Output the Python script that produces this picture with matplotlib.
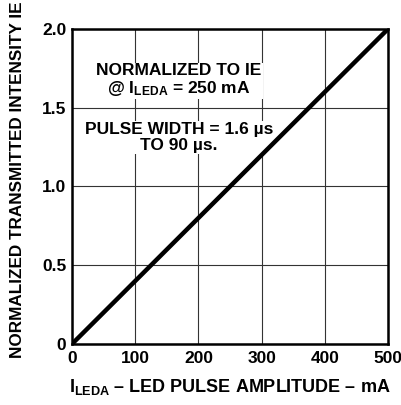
import matplotlib
matplotlib.use('Agg')
import matplotlib.pyplot as plt

# LED pulse amplitude (mA) vs normalized transmitted intensity
led_current = [0, 100, 200, 300, 400, 500]
intensity = [0.0, 0.4, 0.8, 1.2, 1.6, 2.0]

x_ticks = [0, 100, 200, 300, 400, 500]
x_tick_labels = ['0', '100', '200', '300', '400', '500']
y_ticks = [0, 0.5, 1.0, 1.5, 2.0]
y_tick_labels = ['0', '0.5', '1.0', '1.5', '2.0']

plt.rcParams['font.family'] = ['Liberation Sans', 'DejaVu Sans']
plt.rcParams['font.weight'] = 'bold'
plt.rcParams['mathtext.fontset'] = 'custom'
plt.rcParams['mathtext.rm'] = 'Liberation Sans:bold'
plt.rcParams['mathtext.bf'] = 'Liberation Sans:bold'
plt.rcParams['mathtext.it'] = 'Liberation Sans:bold'

fig = plt.figure(figsize=(4.01, 4.05), dpi=100)
ax = fig.add_axes([72 / 401, 61 / 405, 316 / 401, 315 / 405])

ax.plot(led_current, intensity, color='black', linewidth=3.2, solid_capstyle='butt', zorder=3)

ax.set_xlim(0, 500)
ax.set_ylim(0, 2.0)
ax.set_xticks(x_ticks)
ax.set_xticklabels(x_tick_labels)
ax.set_yticks(y_ticks)
ax.set_yticklabels(y_tick_labels)
ax.tick_params(length=0, labelsize=12.5)
ax.tick_params(axis='x', pad=5)
ax.tick_params(axis='y', pad=4)
for lbl in ax.get_xticklabels() + ax.get_yticklabels():
    lbl.set_fontweight('bold')

ax.grid(True, color='#333333', linewidth=0.8)
ax.set_axisbelow(True)
for sp in ax.spines.values():
    sp.set_linewidth(1.8)

ax.set_xlabel(r'$\mathregular{I_{LEDA}}$ – LED PULSE AMPLITUDE – mA',
              fontsize=13, fontweight='bold', labelpad=8)
ax.set_ylabel('NORMALIZED TRANSMITTED INTENSITY IE',
              fontsize=12.3, fontweight='bold')
ax.yaxis.set_label_coords(-0.15, 0.52)

box = dict(facecolor='white', edgecolor='none', pad=1)
ax.text(169, 1.675, 'NORMALIZED TO IE\n@ $\\mathregular{I_{LEDA}}$ = 250 mA',
        ha='center', va='center', fontsize=12.5, fontweight='bold',
        linespacing=1.05, bbox=box, zorder=2)
ax.text(169, 1.31, 'PULSE WIDTH = 1.6 µs\nTO 90 µs.',
        ha='center', va='center', fontsize=12.5, fontweight='bold',
        linespacing=1.05, bbox=box, zorder=2)

fig.savefig('out.png', dpi=100)
